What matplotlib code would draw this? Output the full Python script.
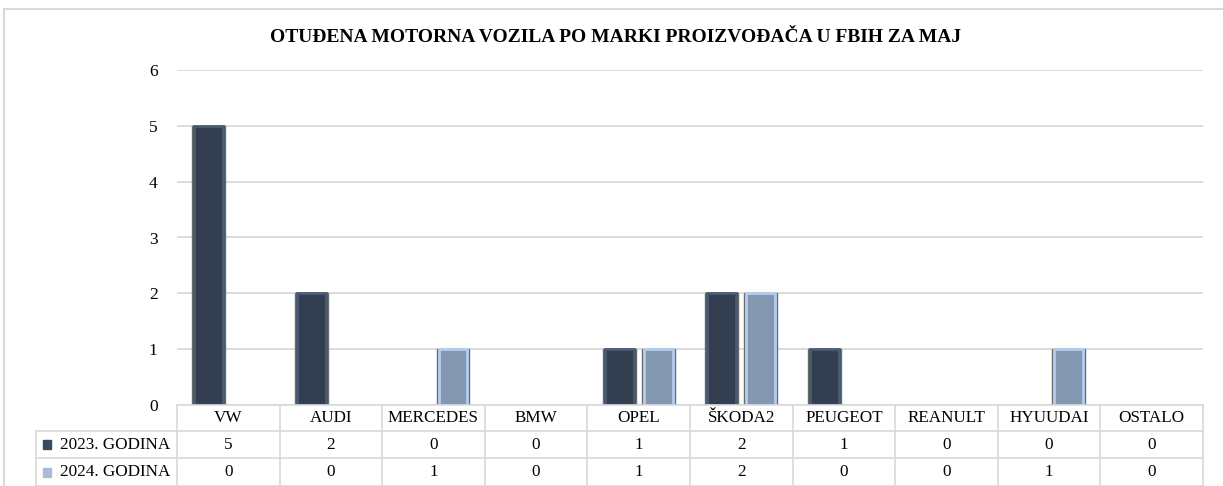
import matplotlib
matplotlib.use("Agg")
import matplotlib.pyplot as plt
import matplotlib.transforms as mtransforms
import numpy as np

categories = ["VW", "AUDI", "MERCEDES", "BMW", "OPEL", "ŠKODA2", "PEUGEOT", "REANULT", "HYUUDAI", "OSTALO"]
series_names = ["2023. GODINA", "2024. GODINA"]
values_2023 = [5, 2, 0, 0, 1, 2, 1, 0, 0, 0]
values_2024 = [0, 0, 1, 0, 1, 2, 0, 0, 1, 0]
title = "OTUĐENA MOTORNA VOZILA PO MARKI PROIZVOĐAČA U FBIH ZA MAJ"

W, H = 1223, 486
fig = plt.figure(figsize=(W / 100, H / 100), dpi=100)
plt.rcParams['font.family'] = ['Liberation Serif', 'DejaVu Serif']

def fx(x):
    return x / W

def fy(y):
    return 1 - y / H

grid_c = "#d9d9d9"

# outer frame
fig.add_artist(plt.Rectangle((fx(4), fy(H + 5)), fx(W + 10), fy(9) - fy(H + 5),
                             transform=fig.transFigure, fill=False, edgecolor="#d9d9d9", lw=1.5))

ax = fig.add_axes([fx(177), fy(405), fx(1203) - fx(177), fy(70) - fy(405)])
x = np.arange(len(categories))
bw = 0.32
off = 0.19
dark_fill, dark_edge = "#333f50", "#4a5b74"
light_fill, light_edge = "#8497b0", "#b4cdee"
series = [(values_2023, -off, dark_fill, dark_edge), (values_2024, off, light_fill, light_edge)]
for vals, o, fc, ec in series:
    v = np.array(vals, dtype=float)
    mask = v > 0
    ax.bar(x[mask] + o, v[mask], width=bw, color=fc, edgecolor="#6a6a6a", lw=1.0, zorder=3)
    ax.bar(x[mask] + o, v[mask], width=bw - 0.04, color=fc, edgecolor=ec, lw=2.0, zorder=4)

ax.set_xlim(-0.5, len(categories) - 0.5)
ax.set_ylim(0, 6)
ax.set_yticks(range(0, 7))
ax.yaxis.grid(True, color=grid_c, lw=1.3, zorder=0)
ax.set_axisbelow(True)
for s in ax.spines.values():
    s.set_visible(False)
ax.tick_params(axis='y', length=0, pad=14, labelsize=12.5)
ax.set_xticks([])

fig.text(fx(616), fy(37), title, ha='center', va='center', fontsize=14, fontweight='bold')

# data table
bt = mtransforms.blended_transform_factory(ax.transData, fig.transFigure)
rows_y = [405, 431, 458, 486]
x_left_px = 36
fig.add_artist(plt.Line2D([-0.5, len(categories) - 0.5], [fy(405)] * 2, transform=bt, color=grid_c, lw=1.2))
for yy in rows_y[1:]:
    fig.add_artist(plt.Line2D([fx(x_left_px), fx(1203)], [fy(yy)] * 2, transform=fig.transFigure, color=grid_c, lw=1.2))
for i in range(len(categories) + 1):
    fig.add_artist(plt.Line2D([i - 0.5, i - 0.5], [fy(405), fy(486)], transform=bt, color=grid_c, lw=1.2))
fig.add_artist(plt.Line2D([fx(x_left_px)] * 2, [fy(431), fy(486)], transform=fig.transFigure, color=grid_c, lw=1.2))

fs = 12.3
for i, c in enumerate(categories):
    fig.text(i, fy(418), c, transform=bt, ha='center', va='center', fontsize=fs)
    fig.text(i, fy(444.5), str(values_2023[i]), transform=bt, ha='center', va='center', fontsize=fs)
    fig.text(i, fy(472), str(values_2024[i]), transform=bt, ha='center', va='center', fontsize=fs)

for name, yy, col in [(series_names[0], 444.5, "#3b4a60"), (series_names[1], 472, "#a9bcd6")]:
    fig.add_artist(plt.Rectangle((fx(43), fy(yy + 4.5)), fx(8), fy(yy - 4.5) - fy(yy + 4.5),
                                 transform=fig.transFigure, color=col))
    fig.text(fx(60), fy(yy), name, ha='left', va='center', fontsize=fs)

fig.savefig("out.png", dpi=100)
